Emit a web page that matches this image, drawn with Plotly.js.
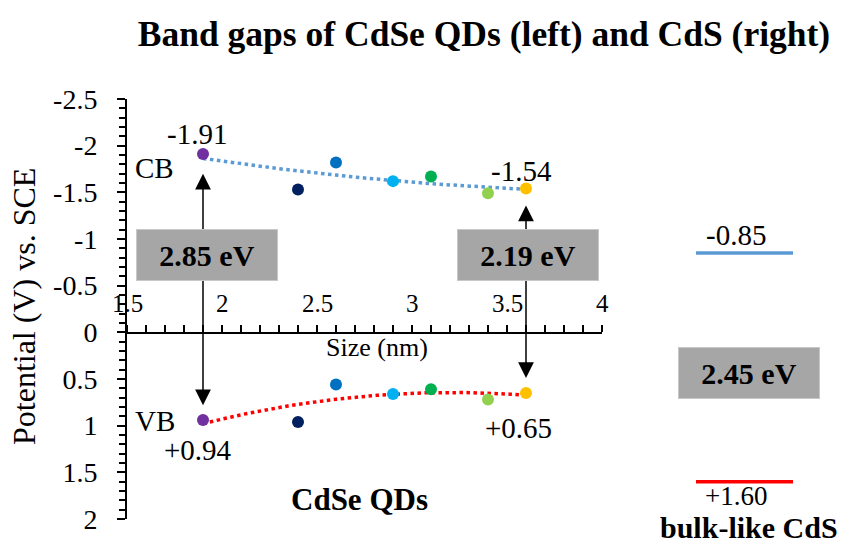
<!DOCTYPE html>
<html>
<head>
<meta charset="utf-8">
<script src="https://cdn.plot.ly/plotly-3.0.1.min.js"></script>
<style>
html,body{margin:0;padding:0;background:#fff;}
#chart{width:844px;height:548px;}
</style>
</head>
<body>
<div id="chart"></div>
<script>
// ---- data ----
const sizes = [1.9, 2.4, 2.6, 2.9, 3.1, 3.4, 3.6];
const cbPotential = [-1.91, -1.53, -1.82, -1.62, -1.67, -1.49, -1.54];
const vbPotential = [0.94, 0.96, 0.56, 0.66, 0.61, 0.72, 0.65];
const pointColors = ['#7030A0', '#002060', '#0070C0', '#00B0F0', '#00B050', '#92D050', '#FFC000'];
const cdsCB = -0.85;
const cdsVB = 1.60;
const gapSmall = '2.85 eV';
const gapLarge = '2.19 eV';
const gapCdS = '2.45 eV';
const yTickVals = [-2.5, -2, -1.5, -1, -0.5, 0, 0.5, 1, 1.5, 2];
const yTickText = ['-2.5', '-2', '-1.5', '-1', '-0.5', '0', '0.5', '1', '1.5', '2'];
const xTickVals = [1.5, 2, 2.5, 3, 3.5, 4];
const xTickText = ['1.5', '2', '2.5', '3', '3.5', '4'];

// quadratic least-squares trendline (like a spreadsheet polynomial trendline)
function fit2(xs, ys) {
  let S = [0,0,0,0,0], T = [0,0,0];
  for (let i = 0; i < xs.length; i++) {
    let p = 1;
    for (let k = 0; k < 5; k++) { S[k] += p; if (k < 3) T[k] += p * ys[i]; p *= xs[i]; }
  }
  const A = [[S[0],S[1],S[2],T[0]],[S[1],S[2],S[3],T[1]],[S[2],S[3],S[4],T[2]]];
  for (let c = 0; c < 3; c++) {
    for (let r = c + 1; r < 3; r++) {
      const f = A[r][c] / A[c][c];
      for (let k = c; k < 4; k++) A[r][k] -= f * A[c][k];
    }
  }
  const b = [0,0,0];
  for (let r = 2; r >= 0; r--) {
    let s = A[r][3];
    for (let k = r + 1; k < 3; k++) s -= A[r][k] * b[k];
    b[r] = s / A[r][r];
  }
  return b;
}
function trend(xs, ys) {
  const b = fit2(xs, ys);
  const x0 = Math.min(...xs), x1 = Math.max(...xs);
  const tx = [], ty = [];
  const n = 80;
  for (let i = 0; i <= n; i++) {
    const x = x0 + (x1 - x0) * i / n;
    tx.push(x); ty.push(b[0] + b[1] * x + b[2] * x * x);
  }
  return {tx, ty};
}
const cbT = trend(sizes, cbPotential);
const vbT = trend(sizes, vbPotential);

const serif = 'Liberation Serif, Times New Roman, serif';

const traces = [
  {x: cbT.tx, y: cbT.ty, mode: 'lines', line: {color: '#5B9BD5', width: 3.5, dash: 'dot'}, xaxis: 'x', yaxis: 'y'},
  {x: vbT.tx, y: vbT.ty, mode: 'lines', line: {color: '#FF0000', width: 3.5, dash: 'dot'}, xaxis: 'x', yaxis: 'y'},
  {x: sizes, y: cbPotential, mode: 'markers', marker: {color: pointColors, size: 12}, xaxis: 'x', yaxis: 'y'},
  {x: sizes, y: vbPotential, mode: 'markers', marker: {color: pointColors, size: 12}, xaxis: 'x', yaxis: 'y'},
  {x: [0, 1], y: [cdsCB, cdsCB], mode: 'lines', line: {color: '#5B9BD5', width: 3.5}, xaxis: 'x2', yaxis: 'y'},
  {x: [0, 1], y: [cdsVB, cdsVB], mode: 'lines', line: {color: '#FF0000', width: 3.5}, xaxis: 'x2', yaxis: 'y'}
];

function txt(text, x, y, size, opts) {
  return Object.assign({text: text, x: x, y: y, xref: 'x', yref: 'y', showarrow: false,
    font: {family: serif, size: size, color: '#000'}, xanchor: 'center', yanchor: 'middle'}, opts || {});
}
function arrow(x, yTail, yTip) {
  return {x: x, y: yTip, ax: x, ay: yTail, xref: 'x', yref: 'y', axref: 'x', ayref: 'y', text: '',
    showarrow: true, arrowhead: 2, arrowsize: 2.1, arrowwidth: 1.5, arrowcolor: '#000', standoff: 0};
}
function box(text, x, y, xref, yref) {
  return {text: text, x: x, y: y, xref: xref, yref: yref, showarrow: false, width: 140, height: 50,
    bgcolor: '#A6A6A6', bordercolor: '#C8C8C8', borderwidth: 1, borderpad: 0,
    font: {family: serif, size: 30, color: '#000', weight: 'bold'}, xanchor: 'center', yanchor: 'middle'};
}

const annotations = [
  arrow(sizes[0], -0.83, -1.70),
  arrow(sizes[0], -0.83, 0.78),
  arrow(sizes[6], -0.83, -1.36),
  arrow(sizes[6], -0.83, 0.49),
  box(gapSmall, 1.92, -0.83, 'x', 'y'),
  box(gapLarge, 3.61, -0.83, 'x', 'y'),
  box(gapCdS, (749 - 127) / 717, 0.435, 'paper', 'y'),
  txt('-1.91', 1.868, -2.13, 29),
  txt('CB', 1.647, -1.76, 29),
  txt('-1.54', 3.574, -1.73, 29),
  txt('VB', 1.647, 0.95, 29),
  txt('+0.94', 1.874, 1.26, 29),
  txt('+0.65', 3.56, 1.02, 29),
  txt('Size (nm)', 2.816, 0.16, 26),
  txt('CdSe QDs', 2.726, 1.79, 31, {font: {family: serif, size: 31, color: '#000', weight: 'bold'}}),
  txt('-0.85', (736 - 127) / 717, -1.04, 29, {xref: 'paper'}),
  txt('+1.60', (736 - 127) / 717, (519 - 496) / 420, 27, {xref: 'paper', yref: 'paper'}),
  txt('bulk-like CdS', (749 - 127) / 717, (519 - 527) / 420, 30, {xref: 'paper', yref: 'paper', font: {family: serif, size: 30, color: '#000', weight: 'bold'}}),
  txt('Potential (V) vs. SCE', (24 - 127) / 717, (519 - 307) / 420, 32, {xref: 'paper', yref: 'paper', textangle: -90})
];
// x tick labels sit above the axis line at y = 0
xTickVals.forEach((v, i) => {
  annotations.push(txt(xTickText[i], v, -0.31, 25));
});

const layout = {
  width: 844, height: 548,
  margin: {l: 127, r: 0, t: 99, b: 29, pad: 0},
  paper_bgcolor: '#fff', plot_bgcolor: 'rgba(0,0,0,0)',
  showlegend: false,
  title: {text: 'Band gaps of CdSe QDs (left) and CdS (right)', xref: 'container', yref: 'container',
    x: 484 / 844, y: 1 - 34 / 548, xanchor: 'center', yanchor: 'middle',
    font: {family: serif, size: 35.5, color: '#000', weight: 'bold'}},
  xaxis: {domain: [0, 475 / 717], range: [1.5, 4], anchor: 'free', position: (519 - 333) / 420, side: 'top',
    showline: true, linewidth: 2, linecolor: '#000', showgrid: false, zeroline: false,
    tickmode: 'array', tickvals: xTickVals, ticktext: xTickText, showticklabels: false,
    ticks: 'outside', ticklen: 7, tickwidth: 2, tickcolor: '#000',
    minor: {dtick: 0.1, tick0: 1.5, ticks: 'outside', ticklen: 7, tickwidth: 2, tickcolor: '#000', showgrid: false}},
  xaxis2: {domain: [(696 - 127) / 717, (793 - 127) / 717], range: [0, 1], anchor: 'y', visible: false},
  yaxis: {range: [2, -2.5], domain: [0, 1], anchor: 'x', showline: true, linewidth: 2, linecolor: '#000',
    showgrid: false, zeroline: false, tickmode: 'array', tickvals: yTickVals,
    ticktext: yTickText.map(t => t + '\u00A0\u00A0'),
    ticks: 'outside', ticklen: 8, tickwidth: 2, tickcolor: '#000',
    minor: {dtick: 0.1, tick0: 0, ticks: 'outside', ticklen: 6, tickwidth: 2, tickcolor: '#000', showgrid: false},
    tickfont: {family: serif, size: 28, color: '#000'}},
  annotations: annotations
};

Plotly.newPlot('chart', traces, layout, {displayModeBar: false, staticPlot: true});
</script>
</body>
</html>
